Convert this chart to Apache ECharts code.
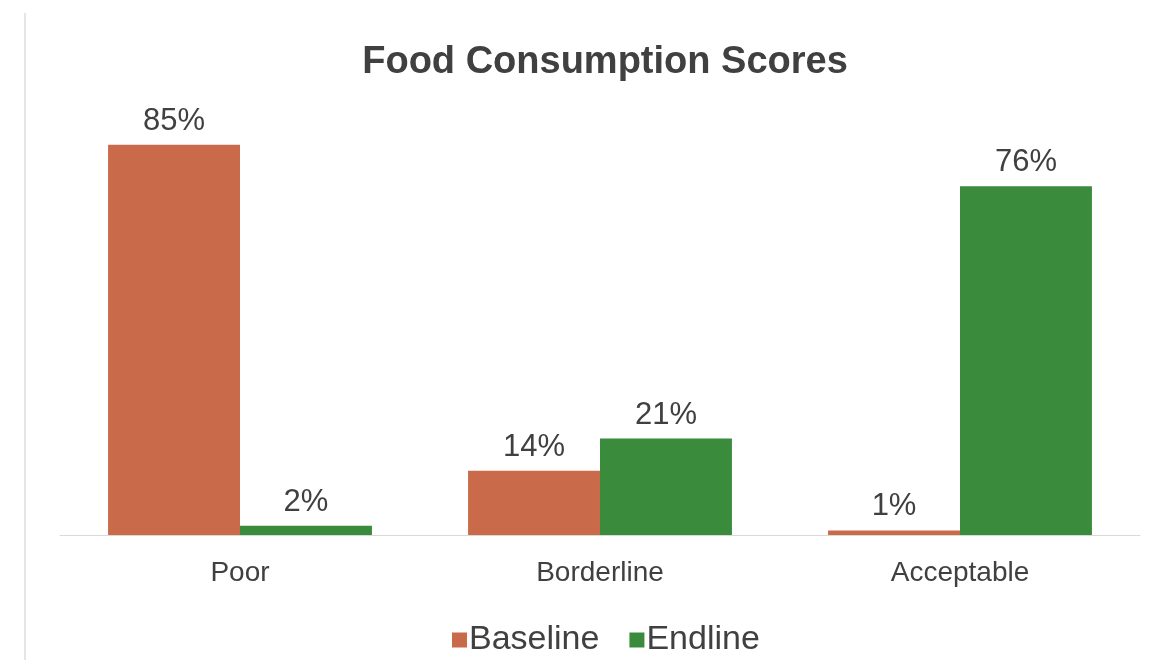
<!DOCTYPE html>
<html><head><meta charset="utf-8">
<script src="https://cdn.jsdelivr.net/npm/echarts@6/dist/echarts.min.js"></script>
<style>html,body{margin:0;padding:0;background:#fff}#c{width:1156px;height:660px}</style>
</head><body><div id="c"></div>
<script>
const categories = ['Poor', 'Borderline', 'Acceptable'];
const baseline = [85, 14, 1];
const endline = [2, 21, 76];
const seriesNames = ['Baseline', 'Endline'];

const chart = echarts.init(document.getElementById('c'));
const font = '"Liberation Sans", Arial, sans-serif';
const lbl = {show: true, position: 'top', formatter: '{c}%', fontSize: 31, color: '#404040', fontFamily: font, distance: 8};
chart.setOption({
  animation: false,
  backgroundColor: '#fff',
  title: {text: 'Food Consumption Scores', left: 600, textAlign: 'center', top: 39,
    textStyle: {fontSize: 38, fontWeight: 'bold', color: '#404040', fontFamily: font}},
  legend: {bottom: -2, left: 447, itemWidth: 15, itemHeight: 15, itemGap: 30, icon: 'rect',
    textStyle: {fontSize: 34, color: '#404040', fontFamily: font, padding: [0,0,0,-3]},
    data: seriesNames},
  grid: {left: 60, right: 16, top: 76, bottom: 125},
  xAxis: {type: 'category', data: categories,
    axisLine: {lineStyle: {color: '#d9d9d9', width: 1}}, axisTick: {show: false},
    axisLabel: {fontSize: 28, color: '#404040', fontFamily: font, margin: 24}},
  yAxis: {type: 'value', min: 0, max: 100, show: false, splitLine: {show: false}},
  graphic: [{type: 'line', shape: {x1: 25, y1: 13, x2: 25, y2: 660}, style: {stroke: '#dcdcdc', lineWidth: 1.5}}],
  series: [
    {name: seriesNames[0], type: 'bar', data: baseline, barGap: '0%', barCategoryGap: '26.7%',
     itemStyle: {color: '#C96B4B'}, label: lbl},
    {name: seriesNames[1], type: 'bar', data: endline,
     itemStyle: {color: '#3A8B3C'}, label: lbl}
  ]
});
</script></body></html>
